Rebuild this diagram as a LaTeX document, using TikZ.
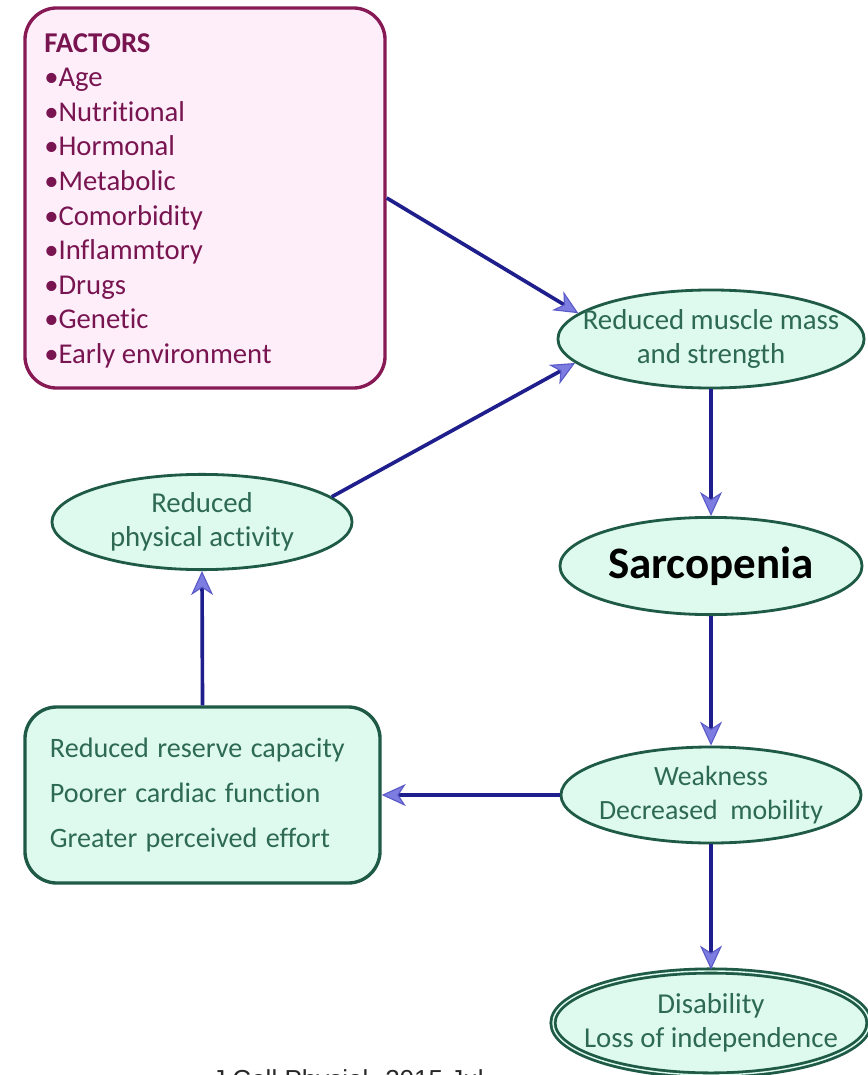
\documentclass[tikz,border=0pt]{standalone}
\usepackage{fontspec}
\setmainfont{Carlito}[Ligatures = NoCommon]
\newfontfamily\citefont{Liberation Sans}
\usetikzlibrary{arrows.meta,shapes.geometric}
\definecolor{facline}{RGB}{135,25,85}
\definecolor{facfill}{RGB}{253,238,250}
\definecolor{factext}{RGB}{120,20,80}
\definecolor{ovalline}{RGB}{30,90,70}
\definecolor{ovalfill}{RGB}{222,250,238}
\definecolor{ovaltext}{RGB}{45,105,85}
\definecolor{linkcol}{RGB}{30,30,140}
\definecolor{tipfill}{RGB}{125,125,225}
\definecolor{tipline}{RGB}{90,90,200}
\definecolor{citegray}{RGB}{40,40,40}
\newcommand{\widegaps}{\spaceskip 0.3em\relax}
\begin{document}
\begin{tikzpicture}[
  x = 0.025cm, y = -0.025cm,
  panel/.style = {rectangle, rounded corners = 0.8cm, line width = 2.4pt},
  oval/.style  = {ellipse, draw = ovalline, fill = ovalfill, line width = 2pt, text = ovaltext,
                  align = center, inner xsep = -0.5cm, inner ysep = 0pt, font = \fontsize{20.5}{24.5}\selectfont},
  link/.style  = {draw = linkcol, line width = 2.6pt,
                  -{Stealth[length = 0.6cm, width = 0.55cm, inset = 0.18cm, fill = tipfill, color = tipline, line width = 0.8pt]}}
]
  \useasboundingbox[fill = white] (0, 0) rectangle (867, 1075);

  \node[panel, draw = facline, fill = facfill, minimum width = 9cm, minimum height = 9.5cm] (factors) at (205, 198) {};
  \node[anchor = north west, inner sep = 0pt, align = left, text = factext,
        font = \fontsize{20.4}{24.6}\selectfont] (factlist) at (44, 33)
    {\textbf{FACTORS}\\•Age\\•Nutritional\\•Hormonal\\•Metabolic\\•Comorbidity\\•Inflammtory\\•Drugs\\•Genetic\\•Early environment};

  \node[oval, minimum width = 7.55cm, minimum height = 2.45cm] (muscle)   at (711, 339)  {Reduced muscle mass\\and strength};
  \node[oval, minimum width = 7.55cm, minimum height = 2.43cm, text = black,
        font = \fontsize{32}{36}\selectfont\bfseries]         (sarc)     at (711, 566)  {Sarcopenia};
  \node[oval, minimum width = 7.5cm,  minimum height = 2.4cm,
        font = \fontsize{19.8}{24.5}\selectfont]             (weak)     at (711, 795)  {Weakness\\Decreased\ \ mobility};
  \node[oval, minimum width = 7.9cm,  minimum height = 2.6cm, line width = 2pt,
        double = ovalfill, double distance = 1pt]             (disab)    at (711, 1023) {Disability\\Loss of independence};
  \node[oval, minimum width = 7.5cm,  minimum height = 2.38cm] (activity) at (202, 522)  {Reduced\\physical activity};

  \node[panel, draw = ovalline, fill = ovalfill, text = ovaltext, align = left,
        text width = 7.625cm, inner xsep = 0.625cm, minimum height = 4.4cm,
        font = \fontsize{20}{32}\selectfont] (reserve) at (202.5, 795)
    {\widegaps Reduced reserve capacity\\Poorer cardiac function\\Greater perceived effort};

  \node[anchor = base west, inner sep = 0pt, text = citegray,
        font = \citefont\fontsize{18.5}{22}\selectfont] (cite) at (212, 1088) {J Cell Physiol. 2015 Jul};

  \draw[link] (factors.east)  -- (muscle.169);
  \draw[link] (activity.11)   -- (muscle.190);
  \draw[link] (muscle.south)  -- (sarc.north);
  \draw[link] (sarc.south)    -- (weak.north);
  \draw[link] (weak.south)    -- (disab.north);
  \draw[link] (weak.west)     -- (reserve.east);
  \draw[link] (reserve.north) -- (activity.south);
\end{tikzpicture}
\end{document}
